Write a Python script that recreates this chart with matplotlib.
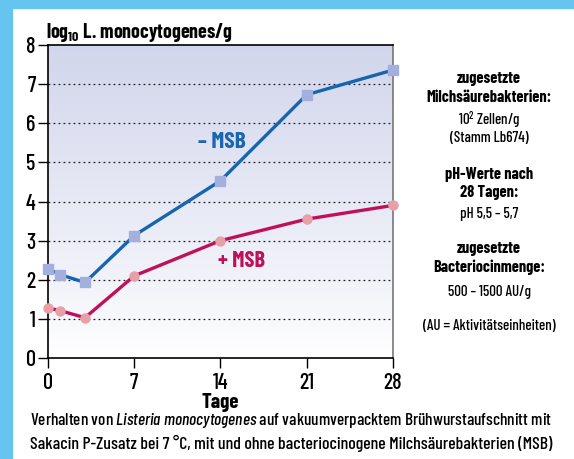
import matplotlib
matplotlib.use("Agg")
import matplotlib.pyplot as plt
import numpy as np
from matplotlib import font_manager

days = [0, 1, 3, 7, 14, 21, 28]
ohne_msb = [2.28, 2.13, 1.93, 3.13, 4.53, 6.73, 7.36]
mit_msb = [1.28, 1.21, 1.03, 2.10, 3.00, 3.55, 3.90]
xticks = [0, 7, 14, 21, 28]
yticks = [0, 1, 2, 3, 4, 5, 6, 7, 8]

names = {f.name for f in font_manager.fontManager.ttflist}
main = next((n for n in ['Barlow Condensed', 'Roboto Condensed', 'Fira Sans Condensed'] if n in names), 'DejaVu Sans')
plt.rcParams['font.family'] = [main, 'DejaVu Sans']
plt.rcParams['font.weight'] = 500
plt.rcParams['mathtext.fontset'] = 'custom'
plt.rcParams['mathtext.rm'] = main + ':medium'
plt.rcParams['mathtext.it'] = main + ':italic:medium'
plt.rcParams['mathtext.bf'] = main + ':bold'

W, H = 574, 459
fig = plt.figure(figsize=(W/100, H/100), dpi=100)
renderer = fig.canvas.get_renderer()


def fit(t, target_px):
    for _ in range(3):
        w = t.get_window_extent(renderer).width
        if w > 0:
            t.set_fontsize(t.get_fontsize() * target_px / w)
    return t.get_fontsize()


# blue border
fig.patches.append(plt.Rectangle((0, 0), 12/W, 1, transform=fig.transFigure, color='#66c4f0', zorder=0))
fig.patches.append(plt.Rectangle((0, 1-8/H), 1, 8/H, transform=fig.transFigure, color='#66c4f0', zorder=0))

L, R, T, B = 48, 393, 45, 358
ax = fig.add_axes([L/W, 1-B/H, (R-L)/W, (B-T)/H])
ax.set_xlim(0, 28)
ax.set_ylim(0, 8)

grad = np.linspace(0, 1, 256).reshape(-1, 1)
top = np.array([0.824, 0.839, 0.925])
bot = np.array([1.0, 1.0, 1.0])
img = bot + (top - bot) * grad[:, :, None] ** 0.9
ax.imshow(img, extent=[0, 28, 0, 8], origin='lower', aspect='auto', zorder=0)

for y in range(1, 8):
    ax.axhline(y, color='#222222', lw=0.9, ls=(0, (1.5, 2.5)), zorder=1)

ax.plot(days, ohne_msb, color='#1565b0', lw=2.4, zorder=3, marker='s', ms=7.5,
        mfc='#a3afdc', mec='#a3afdc', clip_on=False)
ax.plot(days, mit_msb, color='#c0105a', lw=2.4, zorder=3, marker='o', ms=6.5,
        mfc='#e8a0a8', mec='#e8a0a8', clip_on=False)

m1 = ax.text(14.1, 5.52, '– MSB', color='#1a67ae', fontsize=17, fontweight='bold', ha='center', va='center')
m2 = ax.text(15.7, 2.48, '+ MSB', color='#c0105a', fontsize=17, fontweight='bold', ha='center', va='center')
fit(m1, 48)
fit(m2, 47)

for s in ['left', 'bottom', 'top']:
    ax.spines[s].set_color('black')
    ax.spines[s].set_linewidth(1.2)
ax.spines['right'].set_color('#777777')
ax.spines['right'].set_linewidth(1.2)

ax.set_xticks(xticks)
ax.set_yticks(yticks)
ax.tick_params(axis='both', direction='out', length=7, width=1.0, labelsize=16, pad=2)
ax.tick_params(axis='x', pad=4)

ax.set_xlabel('Tage', fontsize=15, fontweight='bold', labelpad=0)

yt = fig.text(46/W, 1-33/H, r'log$_{\mathbf{10}}$ L. monocytogenes/g', fontsize=14, fontweight='bold',
              ha='left', va='center')
fit(yt, 187)

xc = 489/W
lines = [
    (78, 'zugesetzte', 'bold'),
    (97, 'Milchsäurebakterien:', 'bold'),
    (120, r'10$^2$ Zellen/g', 'normal'),
    (138, '(Stamm Lb674)', 'normal'),
    (174, 'pH-Werte nach', 'bold'),
    (192, '28 Tagen:', 'bold'),
    (214, 'pH 5,5 – 5,7', 'normal'),
    (248, 'zugesetzte', 'bold'),
    (267, 'Bacteriocinmenge:', 'bold'),
    (292, '500 – 1500 AU/g', 'normal'),
    (326, '(AU = Aktivitätseinheiten)', 'normal'),
]
objs = []
for y, t, w in lines:
    objs.append(fig.text(xc, 1-y/H, t, fontsize=13, fontweight=('bold' if w == 'bold' else 500),
                         ha='center', va='center'))
bsize = fit(objs[1], 125)
nsize = 0.5 * (fit(objs[10], 132) + fit(objs[3], 79))
for o, (y, t, w) in zip(objs, lines):
    o.set_fontsize(bsize if w == 'bold' else nsize)

c1 = fig.text(30/W, 1-420/H, r'Verhalten von $\mathit{Listeria\ monocytogenes}$ auf vakuumverpacktem Brühwurstaufschnitt mit',
              fontsize=14, fontweight=500, ha='left', va='center')
c2 = fig.text(30/W, 1-443/H, 'Sakacin P-Zusatz bei 7 °C, mit und ohne bacteriocinogene Milchsäurebakterien (MSB)',
              fontsize=14, fontweight=500, ha='left', va='center')
fit(c1, 522)
fit(c2, 523)

fig.savefig('out.png', dpi=100)
